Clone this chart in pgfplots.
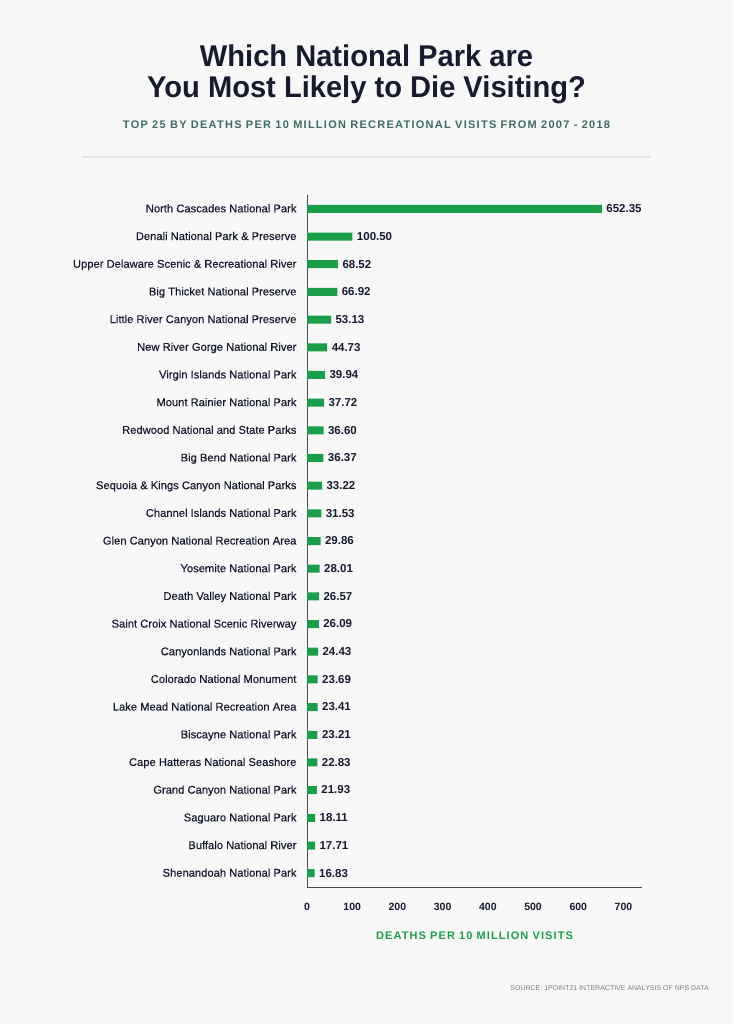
\documentclass[border=0pt]{standalone}
\usepackage{pgfplots}
\pgfplotsset{compat=1.18}
\usepackage{fontspec}
\setmainfont{Liberation Sans}
\definecolor{bg}{HTML}{F8F8F9}
\definecolor{ink}{HTML}{171B2E}
\definecolor{teal}{HTML}{3E6B64}
\definecolor{barg}{HTML}{1A9E4A}
\definecolor{rule}{HTML}{E4E4E6}
\definecolor{axisc}{HTML}{4A4A50}

\begin{document}
\begin{tikzpicture}[x=1pt,y=1pt]
\fill[bg] (0,0) rectangle (733,-1024);
\useasboundingbox (0,0) rectangle (733,-1024);

% titles
\node[anchor=base,text=ink,inner sep=0] at (366.5,-66.7)
  {\scalebox{0.97}[1]{\fontsize{30}{32}\selectfont\bfseries Which National Park are}};
\node[anchor=base,text=ink,inner sep=0] at (366.5,-98)
  {\scalebox{0.97}[1]{\fontsize{30}{32}\selectfont\bfseries You Most Likely to Die Visiting?}};
\node[anchor=base,text=teal,inner sep=0] at (366.5,-129)
  {\addfontfeature{LetterSpace=11.5}\fontsize{11}{12}\selectfont\bfseries TOP 25 BY DEATHS PER 10 MILLION RECREATIONAL VISITS FROM 2007 - 2018};
\draw[rule,line width=1.2pt] (82,-157) -- (650,-157);

\begin{axis}[
    at={(307pt,-887pt)}, anchor=south west,
    scale only axis, width=335pt, height=692pt,
    xbar, bar width=8pt,
    y dir=reverse,
    xmin=0, xmax=741,
    ymin=-0.5, ymax=24.5,
    axis lines=left,
    axis line style={axisc,line width=0.9pt,-},
    xtick={0,100,...,700},
    ytick={0,...,24},
    major tick length=0pt,
    /pgf/number format/assume math mode=true,
    tick label style={text=ink},
    xticklabel style={font=\fontsize{10.5}{12}\selectfont\bfseries,yshift=-13pt},
    yticklabel style={font=\fontsize{11.2}{13}\selectfont\addfontfeature{FakeBold=0.4},
      xshift=-7pt,text height=8pt,text depth=0pt,yshift=0.5pt},
    yticklabels={
      North Cascades National Park,
      Denali National Park \& Preserve,
      Upper Delaware Scenic \& Recreational River,
      Big Thicket National Preserve,
      Little River Canyon National Preserve,
      New River Gorge National River,
      Virgin Islands National Park,
      Mount Rainier National Park,
      Redwood National and State Parks,
      Big Bend National Park,
      Sequoia \& Kings Canyon National Parks,
      Channel Islands National Park,
      Glen Canyon National Recreation Area,
      Yosemite National Park,
      Death Valley National Park,
      Saint Croix National Scenic Riverway,
      Canyonlands National Park,
      Colorado National Monument,
      Lake Mead National Recreation Area,
      Biscayne National Park,
      Cape Hatteras National Seashore,
      Grand Canyon National Park,
      Saguaro National Park,
      Buffalo National River,
      Shenandoah National Park},
    xlabel={\addfontfeature{LetterSpace=10}DEATHS PER 10 MILLION VISITS},
    xlabel style={font=\fontsize{11}{13}\selectfont\bfseries,text=barg,yshift=-14pt},
    nodes near coords,
    point meta=x,
    nodes near coords style={font=\fontsize{11.5}{13}\selectfont\bfseries,text=ink,anchor=west,xshift=1pt,
      text height=8.3pt,text depth=0pt,yshift=0.3pt,
      /pgf/number format/.cd,fixed,fixed zerofill,precision=2,assume math mode=true},
    clip=false,
]
\addplot[fill=barg,draw=none] coordinates {
 (652.35,0) (100.50,1) (68.52,2) (66.92,3) (53.13,4)
 (44.73,5) (39.94,6) (37.72,7) (36.60,8) (36.37,9)
 (33.22,10) (31.53,11) (29.86,12) (28.01,13) (26.57,14)
 (26.09,15) (24.43,16) (23.69,17) (23.41,18) (23.21,19)
 (22.83,20) (21.93,21) (18.11,22) (17.71,23) (16.83,24)};
\end{axis}

\node[anchor=base east,text=gray,inner sep=0] at (709,-990)
  {\fontsize{7}{8}\selectfont SOURCE: 1POINT21 INTERACTIVE ANALYSIS OF NPS DATA};
\end{tikzpicture}
\end{document}
